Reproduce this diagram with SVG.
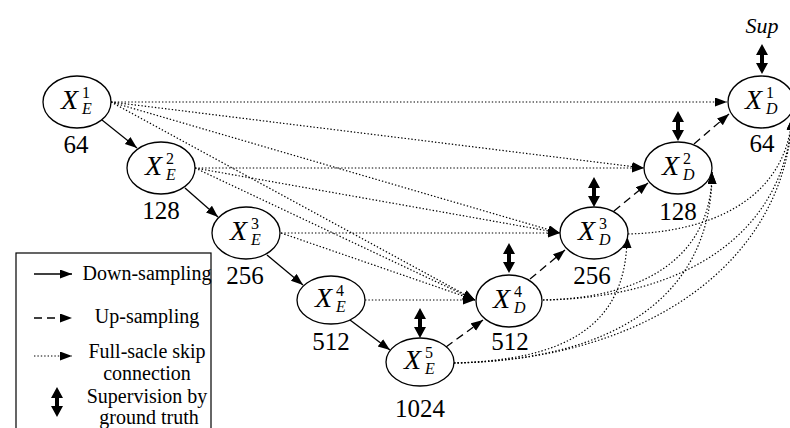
<svg xmlns="http://www.w3.org/2000/svg" width="790" height="428" viewBox="0 0 790 428">
<style>
text{font-family:"Liberation Serif","Times New Roman",Times,"DejaVu Serif",serif}
.nd{fill:#fff;stroke:#000;stroke-width:1.3}
.X{font-style:italic;font-size:28px}
.sp{font-size:16px}
.sb{font-style:italic;font-size:16px}
.num{font-size:25px;text-anchor:middle}
.lg{font-size:20px;text-anchor:middle}
.down{fill:none;stroke:#000;stroke-width:1.3;marker-end:url(#ah)}
.up{fill:none;stroke:#000;stroke-width:1.3;stroke-dasharray:8 5;marker-end:url(#ah)}
.skip{fill:none;stroke:#000;stroke-width:1.2;stroke-dasharray:1.4 2;marker-end:url(#ah)}
</style>
<defs>
<marker id="ah" markerUnits="userSpaceOnUse" markerWidth="14" markerHeight="12" refX="12" refY="4.5" orient="auto">
<path d="M0,0 L12,4.5 L0,9 Z" fill="#000"/>
</marker>
<path id="sup" d="M0,0 L6,11 L2,11 L2,19 L6,19 L0,30 L-6,19 L-2,19 L-2,11 L-6,11 Z" fill="#000"/>
</defs>

<g id="connectors">
<path class="down" d="M102,120 L137,148"/>
<path class="down" d="M185,188 L218,217"/>
<path class="down" d="M267,255 L303,285"/>
<path class="down" d="M350,320 L390,350"/>
<path class="up" d="M446,347 L483,320"/>
<path class="up" d="M530,279 L565,250"/>
<path class="up" d="M614,211 L648,183"/>
<path class="up" d="M694,144 L729,114"/>
<path class="skip" d="M111,102 L727,102"/>
<path class="skip" d="M111,102 L644,168"/>
<path class="skip" d="M111,102 L560,233"/>
<path class="skip" d="M111,102 L475,300"/>
<path class="skip" d="M195,168 L644,168"/>
<path class="skip" d="M195,168 L560,233"/>
<path class="skip" d="M195,168 L475,300"/>
<path class="skip" d="M281,233 L560,233"/>
<path class="skip" d="M281,233 L475,300"/>
<path class="skip" d="M365,300 L475,300"/>
<path class="skip" d="M454,363 C560,360 627,330 627,236"/>
<path class="skip" d="M454,363 C610,360 712,300 712,172"/>
<path class="skip" d="M543,300 C640,298 712,260 712,172"/>
<path class="skip" d="M454,363 C650,360 785,260 792,118"/>
<path class="skip" d="M543,300 C690,298 785,230 792,118"/>
<path class="skip" d="M628,234 C710,232 785,200 792,118"/>
</g>

<g id="XE1"><ellipse class="nd" cx="77" cy="102" rx="34" ry="26"/><text class="X" x="61" y="109">X</text><text class="sp" x="82" y="98">1</text><text class="sb" x="82" y="114">E</text><text class="num" x="76" y="153">64</text></g>
<g id="XE2"><ellipse class="nd" cx="161" cy="168" rx="34" ry="26"/><text class="X" x="145" y="175">X</text><text class="sp" x="166" y="164">2</text><text class="sb" x="166" y="180">E</text><text class="num" x="161" y="219">128</text></g>
<g id="XE3"><ellipse class="nd" cx="246" cy="233" rx="34" ry="26"/><text class="X" x="230" y="240">X</text><text class="sp" x="251" y="229">3</text><text class="sb" x="251" y="245">E</text><text class="num" x="245" y="284">256</text></g>
<g id="XE4"><ellipse class="nd" cx="331" cy="300" rx="34" ry="24"/><text class="X" x="315" y="307">X</text><text class="sp" x="336" y="296">4</text><text class="sb" x="336" y="312">E</text><text class="num" x="331" y="350">512</text></g>
<g id="XE5"><ellipse class="nd" cx="420" cy="362" rx="34" ry="24"/><text class="X" x="404" y="369">X</text><text class="sp" x="425" y="358">5</text><text class="sb" x="425" y="374">E</text><text class="num" x="420" y="417">1024</text></g>
<g id="XD4"><ellipse class="nd" cx="509" cy="301" rx="33" ry="26"/><text class="X" x="493" y="308">X</text><text class="sp" x="514" y="297">4</text><text class="sb" x="514" y="313">D</text><text class="num" x="510" y="350">512</text></g>
<g id="XD3"><ellipse class="nd" cx="594" cy="233" rx="34" ry="26"/><text class="X" x="578" y="240">X</text><text class="sp" x="599" y="229">3</text><text class="sb" x="599" y="245">D</text><text class="num" x="592" y="284">256</text></g>
<g id="XD2"><ellipse class="nd" cx="678" cy="168" rx="34" ry="26"/><text class="X" x="662" y="175">X</text><text class="sp" x="683" y="164">2</text><text class="sb" x="683" y="180">D</text><text class="num" x="678" y="220">128</text></g>
<g id="XD1"><ellipse class="nd" cx="761" cy="102" rx="33" ry="26"/><text class="X" x="745" y="109">X</text><text class="sp" x="766" y="98">1</text><text class="sb" x="766" y="114">D</text><text class="num" x="762" y="152">64</text></g>

<g id="supervision">
<text x="762" y="33" font-style="italic" font-size="22" text-anchor="middle">Sup</text>
<use href="#sup" x="762" y="44"/>
<use href="#sup" x="678" y="111"/>
<use href="#sup" x="594" y="177"/>
<use href="#sup" x="509" y="243"/>
<use href="#sup" x="420" y="308"/>
</g>

<g id="legend">
<rect x="16" y="253" width="195" height="200" fill="none" stroke="#000" stroke-width="1.2"/>
<path class="down" d="M34,274 L72,274"/>
<text class="lg" x="147" y="280">Down-sampling</text>
<path class="up" d="M34,318 L72,318"/>
<text class="lg" x="147" y="323">Up-sampling</text>
<path class="skip" d="M34,356 L72,356"/>
<text class="lg" x="147" y="358">Full-sacle skip</text>
<text class="lg" x="147" y="380">connection</text>
<use href="#sup" x="57" y="387"/>
<text class="lg" x="147" y="403">Supervision by</text>
<text class="lg" x="149" y="424">ground truth</text>
</g>
</svg>
